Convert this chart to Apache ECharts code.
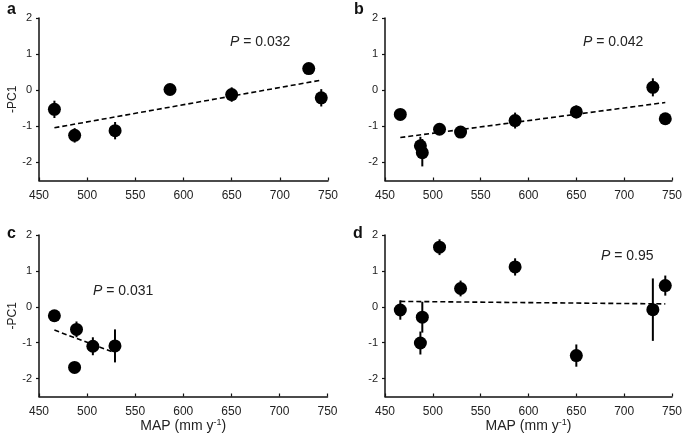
<!DOCTYPE html>
<html><head><meta charset="utf-8">
<script src="https://cdn.jsdelivr.net/npm/echarts@6/dist/echarts.min.js"></script>
<style>html,body{margin:0;padding:0;background:#fff}#c{width:685px;height:441px}</style>
</head><body><div id="c"></div>
<script>
// ---- data ----
const xTicks = [450, 500, 550, 600, 650, 700, 750];
const yTicks = [-2, -1, 0, 1, 2];

const mapA = [466, 487, 529, 586, 650, 730, 743];
const pcA  = [-0.53, -1.25, -1.12, 0.02, -0.12, 0.60, -0.21];
const errA = [0.24, 0.2, 0.24, 0.1, 0.2, 0.1, 0.24];
const fitAx = [466, 743];
const fitAy = [-1.04, 0.28];

const mapB = [466, 487, 489, 507, 529, 586, 650, 730, 743];
const pcB  = [-0.67, -1.54, -1.73, -1.08, -1.16, -0.84, -0.60, 0.08, -0.79];
const errB = [0.1, 0.25, 0.38, 0.1, 0.1, 0.22, 0.18, 0.25, 0.1];
const fitBx = [466, 743];
const fitBy = [-1.31, -0.34];

const mapC = [466, 489, 487, 506, 529];
const pcC  = [-0.25, -0.63, -1.69, -1.10, -1.09];
const errC = [0.1, 0.22, 0.1, 0.25, 0.46];
const fitCx = [466, 527];
const fitCy = [-0.65, -1.26];

const mapD = [466, 487, 489, 507, 529, 586, 650, 730, 743];
const pcD  = [-0.09, -1.01, -0.29, 1.66, 0.51, 1.11, -1.36, -0.08, 0.59];
const errD = [0.27, 0.32, 0.43, 0.22, 0.22, 0.24, 0.31, 0.87, 0.28];
const fitDx = [466, 743];
const fitDy = [0.15, 0.08];

const pLabels = ['0.032', '0.042', '0.031', '0.95'];
const panelLetters = ['a', 'b', 'c', 'd'];

// ---- chart ----
const FONT = '"Liberation Sans", Arial, sans-serif';
const grids = [
  {left: 39, top: 18, width: 289, height: 162.5},
  {left: 385, top: 18, width: 289, height: 162.5},
  {left: 39, top: 235, width: 288.5, height: 161.5},
  {left: 385, top: 235, width: 289, height: 161.5}
];
const panels = [
  {x: mapA, y: pcA, e: errA, fx: fitAx, fy: fitAy},
  {x: mapB, y: pcB, e: errB, fx: fitBx, fy: fitBy},
  {x: mapC, y: pcC, e: errC, fx: fitCx, fy: fitCy},
  {x: mapD, y: pcD, e: errD, fx: fitDx, fy: fitDy}
];

const xAxes = grids.map((g, i) => ({
  type: 'value', gridIndex: i, min: 450, max: 750, interval: 50,
  axisLine: {onZero: false, lineStyle: {color: '#111', width: 1.5}},
  axisTick: {inside: true, length: 3, lineStyle: {color: '#111', width: 1.2}},
  axisLabel: {color: '#222', fontSize: 12, fontFamily: FONT, margin: 9},
  splitLine: {show: false},
  name: i >= 2 ? 'MAP (mm y{s|-1})' : '',
  nameLocation: 'middle', nameGap: 20,
  nameTextStyle: {color: '#222', fontSize: 14, fontFamily: FONT, lineHeight: 16,
    rich: {s: {fontSize: 9, fontFamily: FONT, color: '#222', verticalAlign: 'top', lineHeight: 16}}}
}));
const yAxes = grids.map((g, i) => ({
  type: 'value', gridIndex: i, min: -2.5, max: 2, interval: 1,
  axisLine: {show: true, onZero: false, lineStyle: {color: '#111', width: 1.5}},
  axisTick: {show: true, length: 3, lineStyle: {color: '#111', width: 1.2},
    customValues: yTicks},
  axisLabel: {color: '#222', fontSize: 11, fontFamily: FONT, margin: 7,
    customValues: yTicks, formatter: v => String(v)},
  splitLine: {show: false},
  name: (i % 2 === 0) ? '-PC1' : '',
  nameLocation: 'middle', nameGap: 20,
  nameTextStyle: {color: '#222', fontSize: 12, fontFamily: FONT}
}));

const series = [];
panels.forEach((p, i) => {
  series.push({
    type: 'custom', xAxisIndex: i, yAxisIndex: i, z: 2,
    data: p.x.map((xv, k) => [xv, p.y[k] - p.e[k], p.y[k] + p.e[k]]),
    renderItem: (params, api) => {
      const a = api.coord([api.value(0), api.value(1)]);
      const b = api.coord([api.value(0), api.value(2)]);
      return {type: 'line', shape: {x1: a[0], y1: a[1], x2: b[0], y2: b[1]},
        style: {stroke: '#000', lineWidth: 2}};
    }
  });
  series.push({
    type: 'scatter', xAxisIndex: i, yAxisIndex: i, z: 3,
    symbol: 'circle', symbolSize: 13,
    itemStyle: {color: '#000', opacity: 1},
    data: p.x.map((xv, k) => [xv, p.y[k]])
  });
  series.push({
    type: 'line', xAxisIndex: i, yAxisIndex: i, z: 4,
    symbol: 'none', silent: true,
    lineStyle: {color: '#000', width: 1.6, type: [5, 3]},
    data: p.fx.map((xv, k) => [xv, p.fy[k]])
  });
});

const letterPos = [[7, 2], [354, 2], [7, 226], [353, 226]];
const pPos = [[230, 43], [583, 43], [93, 292], [601, 257]];
const graphic = [];
panelLetters.forEach((l, i) => {
  graphic.push({type: 'text', left: letterPos[i][0], top: letterPos[i][1],
    style: {text: l, font: 'bold 16px ' + FONT, fill: '#111'}});
  graphic.push({type: 'text', left: pPos[i][0], top: pPos[i][1] - 8,
    style: {text: '{i|P} = ' + pLabels[i], font: '14px ' + FONT, fill: '#222',
      rich: {i: {fontStyle: 'italic', fontSize: 14, fontFamily: FONT, fill: '#222'}}}});
});

const chart = echarts.init(document.getElementById('c'), null, {renderer: 'canvas'});
chart.setOption({
  animation: false,
  grid: grids,
  xAxis: xAxes,
  yAxis: yAxes,
  series: series,
  graphic: graphic
});
</script></body></html>
